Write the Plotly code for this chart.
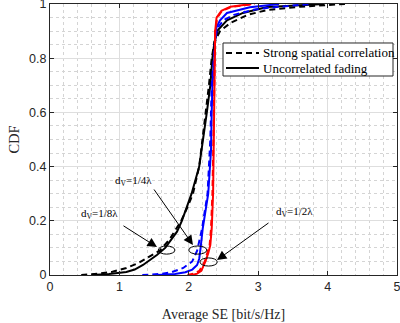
import plotly.graph_objects as go

# ---- data (CDF curves: x = average SE, y = CDF) ----
cdf_black_unc = [0, 0.004, 0.011, 0.02, 0.037, 0.074, 0.1, 0.13, 0.16, 0.2, 0.25, 0.3, 0.4, 0.5, 0.6, 0.7, 0.8, 0.86, 0.904, 0.94, 0.967, 0.989, 1.0]
se_black_unc = [0.6, 0.85, 1.1, 1.22, 1.34, 1.54, 1.66, 1.75, 1.83, 1.9, 1.97, 2.04, 2.15, 2.21, 2.26, 2.31, 2.34, 2.37, 2.42, 2.55, 2.78, 3.13, 3.95]

cdf_black_cor = [0, 0.005, 0.012, 0.026, 0.045, 0.063, 0.09, 0.13, 0.2, 0.25, 0.3, 0.4, 0.5, 0.6, 0.7, 0.8, 0.86, 0.9, 0.93, 0.96, 0.978, 0.99, 1.0]
se_black_cor = [0.45, 0.7, 0.9, 1.1, 1.28, 1.4, 1.58, 1.72, 1.89, 1.98, 2.06, 2.15, 2.2, 2.24, 2.29, 2.33, 2.37, 2.45, 2.6, 2.85, 3.13, 3.6, 4.25]

cdf_blue_unc = [0, 0.004, 0.01, 0.02, 0.037, 0.06, 0.1, 0.17, 0.3, 0.46, 0.6, 0.7, 0.8, 0.87, 0.915, 0.94, 0.967, 0.988, 1.0]
se_blue_unc = [1.55, 1.8, 1.95, 2.05, 2.12, 2.15, 2.17, 2.2, 2.28, 2.32, 2.33, 2.34, 2.37, 2.38, 2.4, 2.45, 2.55, 2.88, 3.3]

cdf_blue_cor = [0, 0.004, 0.01, 0.026, 0.05, 0.09, 0.17, 0.3, 0.5, 0.7, 0.8, 0.87, 0.91, 0.94, 0.96, 0.98, 0.99, 1.0]
se_blue_cor = [1.33, 1.6, 1.75, 1.92, 2.05, 2.12, 2.19, 2.27, 2.31, 2.33, 2.36, 2.38, 2.41, 2.5, 2.65, 2.95, 3.3, 3.75]

cdf_red_unc = [0, 0.005, 0.015, 0.03, 0.05, 0.08, 0.11, 0.17, 0.3, 0.5, 0.7, 0.8, 0.9, 0.95, 0.975, 0.99, 1.0]
se_red_unc = [2.05, 2.12, 2.18, 2.21, 2.24, 2.28, 2.31, 2.33, 2.35, 2.36, 2.37, 2.37, 2.38, 2.4, 2.47, 2.6, 2.9]

cdf_red_cor = [0, 0.005, 0.015, 0.03, 0.05, 0.08, 0.11, 0.17, 0.3, 0.5, 0.7, 0.9, 0.95, 0.975, 0.99, 1.0]
se_red_cor = [1.98, 2.08, 2.15, 2.19, 2.23, 2.27, 2.3, 2.32, 2.34, 2.355, 2.365, 2.38, 2.41, 2.48, 2.62, 2.95]

legend_names = ["Strong spatial correlation", "Uncorrelated fading"]
label_texts = ["d<sub>V</sub>=1/8λ", "d<sub>V</sub>=1/4λ", "d<sub>V</sub>=1/2λ"]
x_ticks = [0, 1, 2, 3, 4, 5]
y_ticks = [0, 0.2, 0.4, 0.6, 0.8, 1]
y_tick_text = ["0", "0.2", "0.4", "0.6", "0.8", "1"]

SERIF = "Liberation Serif, Times New Roman, serif"
SANS = "Liberation Sans, Arial, sans-serif"
DASH = "6px,4px"
LW = 2

fig = go.Figure()

series = [
    ("Strong spatial correlation, d_V=1/8λ", se_black_cor, cdf_black_cor, "black", DASH),
    ("Uncorrelated fading, d_V=1/8λ", se_black_unc, cdf_black_unc, "black", "solid"),
    ("Strong spatial correlation, d_V=1/4λ", se_blue_cor, cdf_blue_cor, "#0000ff", DASH),
    ("Uncorrelated fading, d_V=1/4λ", se_blue_unc, cdf_blue_unc, "#0000ff", "solid"),
    ("Strong spatial correlation, d_V=1/2λ", se_red_cor, cdf_red_cor, "#ff0000", DASH),
    ("Uncorrelated fading, d_V=1/2λ", se_red_unc, cdf_red_unc, "#ff0000", "solid"),
]
for name, xs, ys, col, dash in series:
    fig.add_trace(go.Scatter(x=xs, y=ys, mode="lines", name=name, showlegend=False,
                             line=dict(color=col, width=LW, dash=dash)))

# ellipses
ellipses = [(1.56, 1.80, 0.077, 0.107), (2.0, 2.26, 0.077, 0.107), (2.16, 2.41, 0.033, 0.063)]
for x0, x1, y0, y1 in ellipses:
    fig.add_shape(type="circle", xref="x", yref="y", x0=x0, x1=x1, y0=y0, y1=y1,
                  line=dict(color="black", width=1))

# arrows (tail -> head)
arrows = [((1.037, 0.185), (1.542, 0.103)),
          ((1.484, 0.321), (2.06, 0.111)),
          ((3.17, 0.196), (2.406, 0.055))]
for (tx, ty), (hx, hy) in arrows:
    fig.add_annotation(x=hx, y=hy, ax=tx, ay=ty, xref="x", yref="y", axref="x", ayref="y",
                       text="", showarrow=True, arrowhead=2, arrowsize=1.9, arrowwidth=1,
                       arrowcolor="black")

# labels
label_pos = [(0.72, 0.225), (1.21, 0.347), (3.52, 0.232)]
for (lx, ly), t in zip(label_pos, label_texts):
    fig.add_annotation(x=lx, y=ly, xref="x", yref="y", text=t, showarrow=False,
                       font=dict(family=SERIF, size=11, color="black"))

# legend box (drawn like the MATLAB legend)
fig.add_shape(type="rect", xref="paper", yref="paper", x0=0.4986, x1=0.9885, y0=0.7343, y1=0.8561,
              line=dict(color="#262626", width=1), fillcolor="white", layer="above")
leg_rows = [0.8192, 0.7638]
leg_dash = [DASH, "solid"]
for yy, nm, dsh in zip(leg_rows, legend_names, leg_dash):
    fig.add_shape(type="line", xref="paper", yref="paper", x0=0.5072, x1=0.6023, y0=yy, y1=yy,
                  line=dict(color="black", width=LW, dash=dsh), layer="above")
    fig.add_annotation(x=0.6081, y=yy, xref="paper", yref="paper", text=nm, showarrow=False,
                       xanchor="left", yanchor="middle",
                       font=dict(family=SERIF, size=13, color="black"))

axis_common = dict(showline=True, linecolor="#262626", linewidth=1, mirror="ticks",
                   ticks="inside", ticklen=4, tickcolor="#262626", zeroline=False,
                   showgrid=True, gridcolor="#dedede", gridwidth=1, ticklabeloverflow="allow",
                   tickfont=dict(family=SANS, size=12.5, color="#262626"))

fig.update_xaxes(range=[0, 5], tickvals=x_ticks,
                 minor=dict(dtick=0.2, showgrid=True, gridcolor="#d4d4d4", griddash="dot", ticks=""),
                 title=dict(text="Average SE [bit/s/Hz]", font=dict(family=SERIF, size=14, color="#262626"),
                            standoff=16),
                 **axis_common)
fig.update_yaxes(range=[0, 1], tickvals=y_ticks, ticktext=y_tick_text,
                 minor=dict(dtick=0.05, showgrid=True, gridcolor="#d4d4d4", griddash="dot", ticks=""),
                 title=dict(text="CDF", font=dict(family=SERIF, size=14.5, color="#262626"),
                            standoff=6),
                 **axis_common)

fig.update_layout(
    width=400, height=323,
    margin=dict(l=50, r=3, t=4, b=48, autoexpand=False),
    plot_bgcolor="white", paper_bgcolor="white",
    showlegend=False,
)

fig.write_html("out.html", config={"displayModeBar": False},
               post_script="document.body.style.margin='0';document.body.style.padding='0';")
